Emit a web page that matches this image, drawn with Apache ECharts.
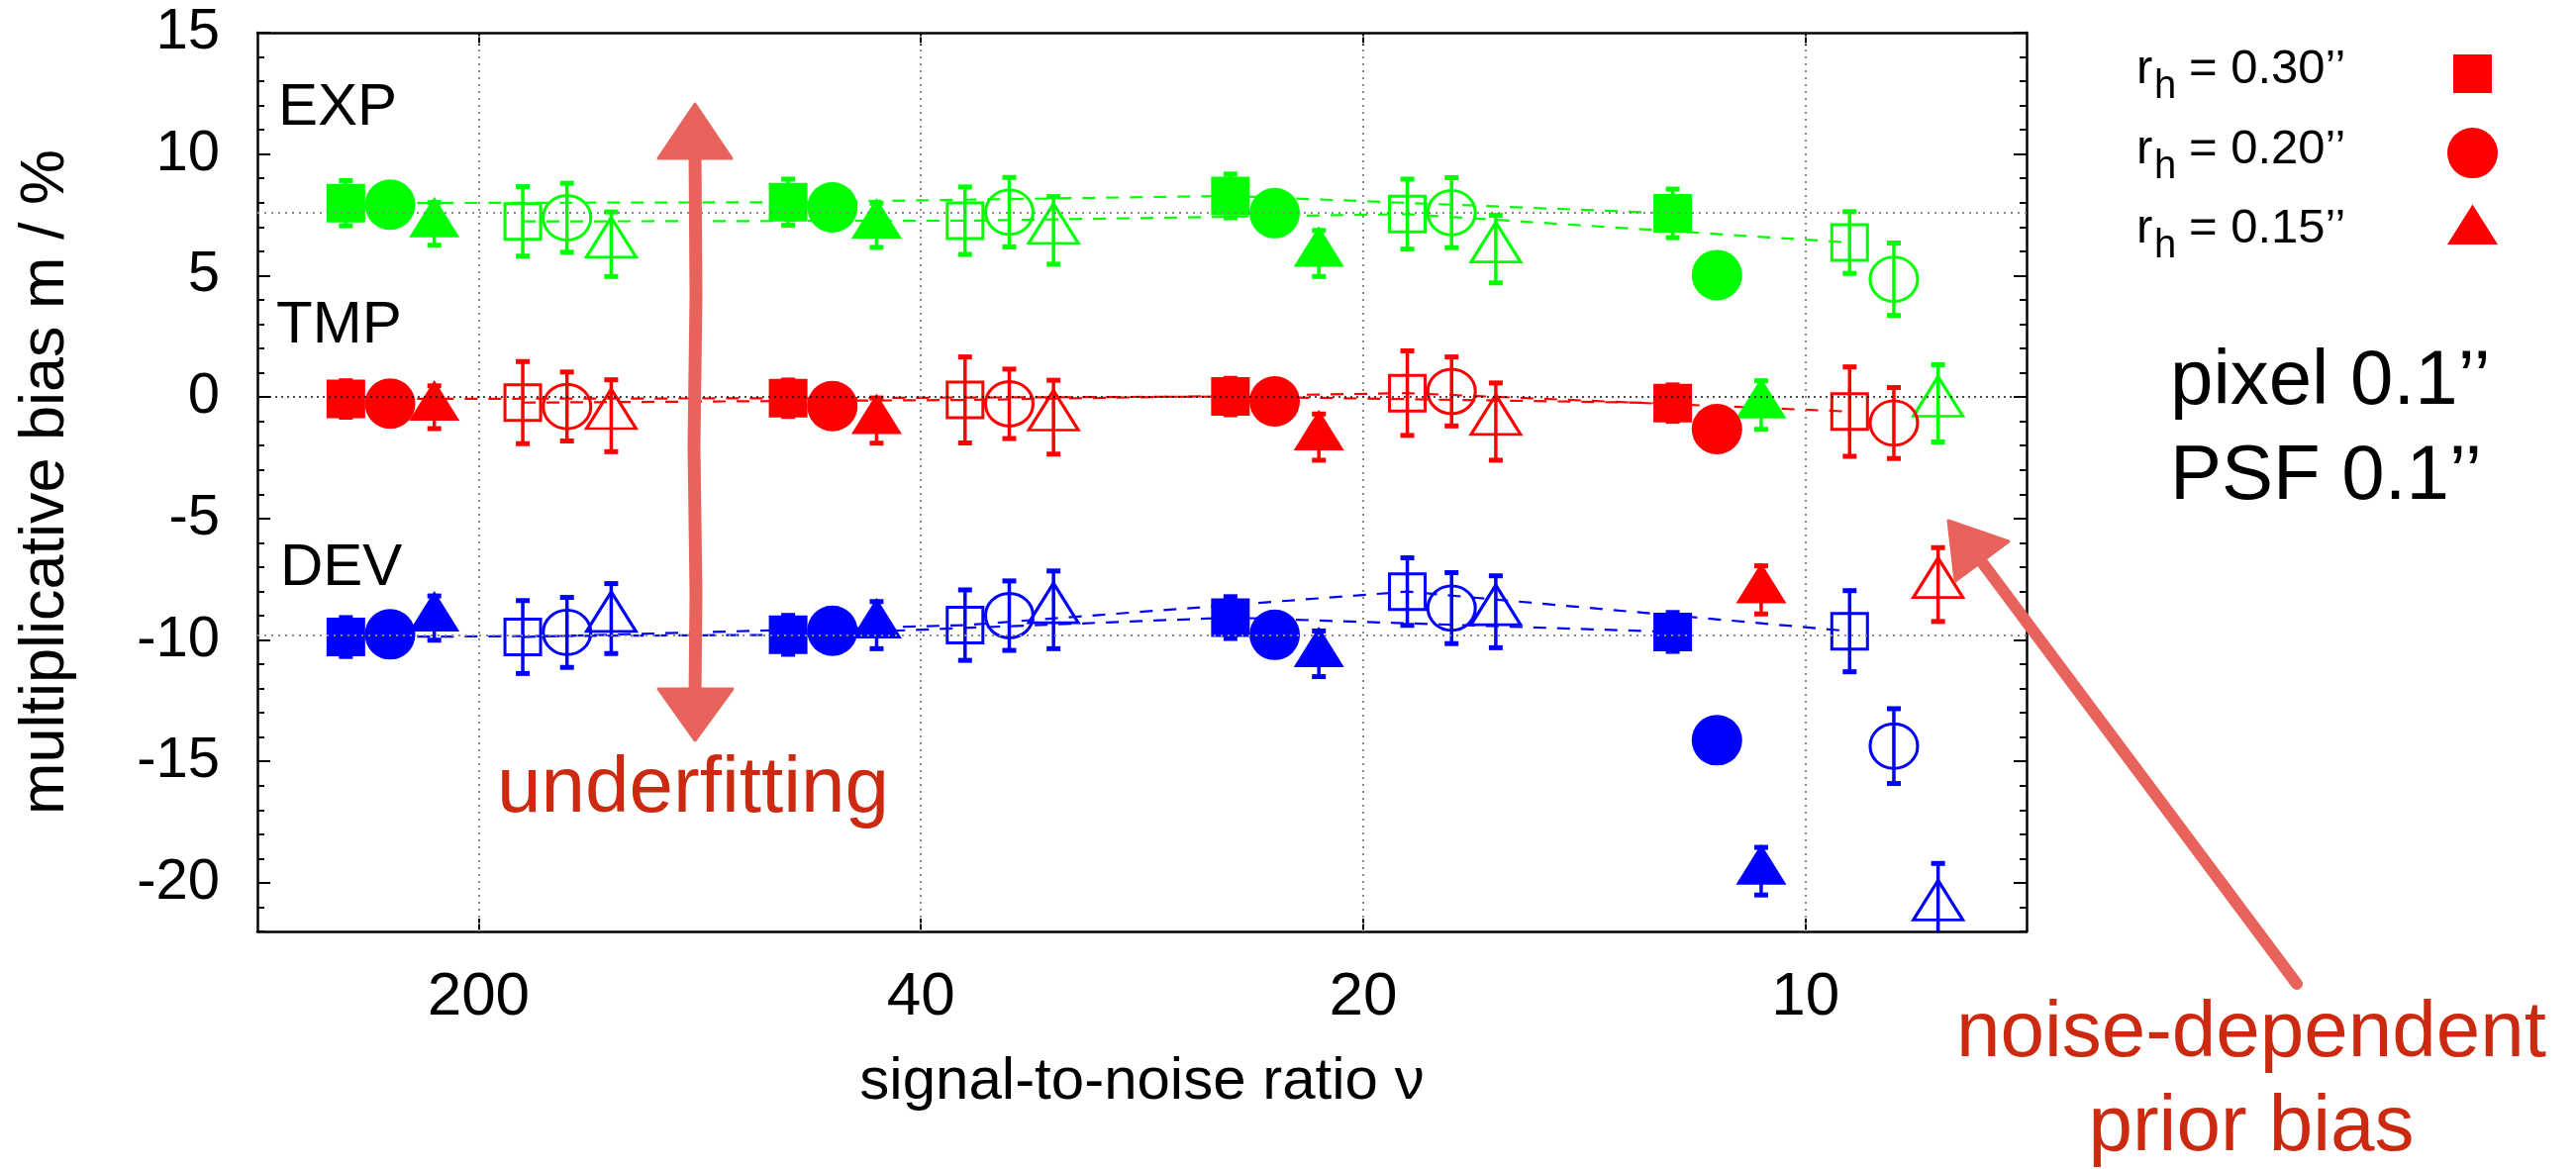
<!DOCTYPE html>
<html>
<head>
<meta charset="utf-8">
<script src="https://cdn.jsdelivr.net/npm/echarts@6/dist/echarts.min.js"></script>
<style>
html,body{margin:0;padding:0;background:#fff;}
#chart{width:2602px;height:1181px;}
</style>
</head>
<body>
<div id="chart"></div>
<script>
// ---------- data ----------
const SN_LABELS = ['200', '40', '20', '10'];
const GROUP_X = [0, 1, 2, 3];
const Y_TICKS = [-20, -15, -10, -5, 0, 5, 10, 15];
const REF_LINES = [7.6, 0, -9.8];

// EXP (green)
const EXP_SQ_F = [7.98, 8.02, 8.28, 7.56];   const EXP_SQ_F_ERR = [0.93, 0.95, 0.90, 1.00];
const EXP_CI_F = [7.92, 7.81, 7.57, 5.02];   const EXP_CI_F_ERR = [0.90, 0.90, 0.90, 0.90];
const EXP_TR_F = [7.13, 7.07, 5.91, -0.33];  const EXP_TR_F_ERR = [0.88, 0.91, 0.95, 1.00];
const EXP_SQ_O = [7.23, 7.26, 7.53, 6.36];   const EXP_SQ_O_ERR = [1.43, 1.39, 1.44, 1.27];
const EXP_CI_O = [7.38, 7.61, 7.59, 4.85];   const EXP_CI_O_ERR = [1.42, 1.43, 1.44, 1.49];
const EXP_TR_O = [6.29, 6.86, 6.09, -0.26];  const EXP_TR_O_ERR = [1.33, 1.39, 1.39, 1.59];
// TMP (red)
const TMP_SQ_F = [-0.08, -0.05, 0.02, -0.25]; const TMP_SQ_F_ERR = [0.75, 0.75, 0.75, 0.75];
const TMP_CI_F = [-0.27, -0.37, -0.18, -1.32]; const TMP_CI_F_ERR = [0.90, 0.90, 0.90, 0.90];
const TMP_TR_F = [-0.42, -0.97, -1.65, -7.94]; const TMP_TR_F_ERR = [0.88, 0.93, 0.95, 0.99];
const TMP_SQ_O = [-0.23, -0.12, 0.16, -0.60]; const TMP_SQ_O_ERR = [1.69, 1.77, 1.74, 1.84];
const TMP_CI_O = [-0.39, -0.28, 0.23, -1.07]; const TMP_CI_O_ERR = [1.42, 1.43, 1.42, 1.46];
const TMP_TR_O = [-0.77, -0.83, -1.01, -7.72]; const TMP_TR_O_ERR = [1.48, 1.52, 1.59, 1.52];
// DEV (blue)
const DEV_SQ_F = [-9.88, -9.79, -9.08, -9.67]; const DEV_SQ_F_ERR = [0.80, 0.80, 0.86, 0.80];
const DEV_CI_F = [-9.77, -9.62, -9.79, -14.13]; const DEV_CI_F_ERR = [0.90, 0.90, 0.90, 0.90];
const DEV_TR_F = [-9.10, -9.39, -10.57, -19.52]; const DEV_TR_F_ERR = [0.91, 0.97, 0.94, 0.98];
const DEV_SQ_O = [-9.88, -9.39, -8.01, -9.64]; const DEV_SQ_O_ERR = [1.50, 1.45, 1.39, 1.67];
const DEV_CI_O = [-9.69, -9.00, -8.69, -14.37]; const DEV_CI_O_ERR = [1.44, 1.43, 1.46, 1.54];
const DEV_TR_O = [-9.12, -8.76, -8.84, -21.00]; const DEV_TR_O_ERR = [1.44, 1.60, 1.48, 1.80];

// ---------- styling ----------
const GREEN = '#00ff00', RED = '#ff0000', BLUE = '#0000ff';
const FONT = '"Liberation Sans", Helvetica, Arial, sans-serif';
const ANNO = '#e8635b';
const ANNO_TEXT = '#cc2a10';
const OFFS = { sq: { f: -0.3, o: 0.1 }, ci: { f: -0.2, o: 0.2 }, tr: { f: -0.1, o: 0.3 } };

const SETS = [
  [EXP_SQ_F, EXP_SQ_F_ERR, GREEN, 'sq', 'f'], [EXP_CI_F, EXP_CI_F_ERR, GREEN, 'ci', 'f'], [EXP_TR_F, EXP_TR_F_ERR, GREEN, 'tr', 'f'],
  [EXP_SQ_O, EXP_SQ_O_ERR, GREEN, 'sq', 'o'], [EXP_CI_O, EXP_CI_O_ERR, GREEN, 'ci', 'o'], [EXP_TR_O, EXP_TR_O_ERR, GREEN, 'tr', 'o'],
  [TMP_SQ_F, TMP_SQ_F_ERR, RED, 'sq', 'f'], [TMP_CI_F, TMP_CI_F_ERR, RED, 'ci', 'f'], [TMP_TR_F, TMP_TR_F_ERR, RED, 'tr', 'f'],
  [TMP_SQ_O, TMP_SQ_O_ERR, RED, 'sq', 'o'], [TMP_CI_O, TMP_CI_O_ERR, RED, 'ci', 'o'], [TMP_TR_O, TMP_TR_O_ERR, RED, 'tr', 'o'],
  [DEV_SQ_F, DEV_SQ_F_ERR, BLUE, 'sq', 'f'], [DEV_CI_F, DEV_CI_F_ERR, BLUE, 'ci', 'f'], [DEV_TR_F, DEV_TR_F_ERR, BLUE, 'tr', 'f'],
  [DEV_SQ_O, DEV_SQ_O_ERR, BLUE, 'sq', 'o'], [DEV_CI_O, DEV_CI_O_ERR, BLUE, 'ci', 'o'], [DEV_TR_O, DEV_TR_O_ERR, BLUE, 'tr', 'o']
];

function symbolFor(shape, fill) {
  if (shape === 'sq') return { symbol: 'rect', symbolSize: fill === 'f' ? 39 : 36, symbolOffset: [0, 0] };
  if (shape === 'ci') return { symbol: 'circle', symbolSize: fill === 'f' ? 51 : [48, 45], symbolOffset: [0, 0] };
  return { symbol: 'triangle', symbolSize: fill === 'f' ? [51, 41] : [50, 40], symbolOffset: [0, -7] };
}

const series = [];

// helper series: grid lines and reference lines
series.push({
  type: 'line', data: [], silent: true, z: 0,
  markLine: {
    silent: true, symbol: 'none', animation: false, label: { show: false },
    data: GROUP_X.map(g => ({ xAxis: g, lineStyle: { color: '#888', width: 2, type: [2, 5] } }))
      .concat(REF_LINES.map(v => ({ yAxis: v, lineStyle: v === 0 ? { color: '#111', width: 1.6, type: [2, 4] } : { color: '#888', width: 2, type: [2, 5] } })))
  }
});

SETS.forEach(([vals, errs, color, shape, fill]) => {
  const xs = GROUP_X.map(g => g + OFFS[shape][fill]);
  const pts = vals.map((v, i) => [xs[i], v]);
  if (shape === 'sq') {
    series.push({
      type: 'line', data: pts, symbol: 'none', z: 1, silent: true,
      lineStyle: { color: color, width: 2.2, type: [13, 11] }
    });
  }
  series.push({
    type: 'custom', z: 2, silent: true, clip: true,
    data: vals.map((v, i) => [xs[i], v, errs[i]]),
    renderItem: function (params, api) {
      const x = api.value(0), y = api.value(1), e = api.value(2);
      const t = api.coord([x, y + e]), b = api.coord([x, y - e]);
      const cw = 7;
      return {
        type: 'group', children: [
          { type: 'line', shape: { x1: t[0], y1: t[1], x2: b[0], y2: b[1] }, style: { stroke: color, lineWidth: 3.5 } },
          { type: 'line', shape: { x1: t[0] - cw, y1: t[1], x2: t[0] + cw, y2: t[1] }, style: { stroke: color, lineWidth: 5 } },
          { type: 'line', shape: { x1: b[0] - cw, y1: b[1], x2: b[0] + cw, y2: b[1] }, style: { stroke: color, lineWidth: 5 } }
        ]
      };
    }
  });
  const sym = symbolFor(shape, fill);
  series.push(Object.assign({
    type: 'scatter', data: pts, z: 3, silent: true,
    itemStyle: fill === 'f' ? { color: color, opacity: 1 } : { color: 'rgba(255,255,255,0)', borderColor: color, borderWidth: 3, opacity: 1 }
  }, sym));
});

const axisLineStyle = { color: '#000', width: 2.5 };

const option = {
  animation: false,
  backgroundColor: '#fff',
  textStyle: { fontFamily: FONT },
  grid: { left: 260, right: 555, top: 33, bottom: 240, containLabel: false },
  xAxis: [
    {
      type: 'value', min: -0.5, max: 3.5, position: 'bottom',
      axisLine: { show: true, onZero: false, lineStyle: axisLineStyle },
      axisTick: { show: true, inside: true, length: 13, customValues: GROUP_X, lineStyle: { color: '#000', width: 2 } },
      axisLabel: { show: true, customValues: GROUP_X, formatter: v => SN_LABELS[Math.round(v)], fontSize: 62, color: '#000', margin: 36, fontFamily: FONT },
      splitLine: { show: false },
      name: 'signal-to-noise ratio \u03bd', nameLocation: 'middle', nameGap: 122,
      nameTextStyle: { fontSize: 60, color: '#000', fontFamily: FONT }
    },
    {
      type: 'value', min: -0.5, max: 3.5, position: 'top',
      axisLine: { show: true, onZero: false, lineStyle: axisLineStyle },
      axisTick: { show: true, inside: true, length: 13, customValues: GROUP_X, lineStyle: { color: '#000', width: 2 } },
      axisLabel: { show: false }, splitLine: { show: false }
    }
  ],
  yAxis: [
    {
      type: 'value', min: -22, max: 15, interval: 1, position: 'left',
      axisLine: { show: true, onZero: false, lineStyle: axisLineStyle },
      axisTick: { show: true, inside: true, length: 7, lineStyle: { color: '#000', width: 2 } },
      axisLabel: { show: true, customValues: Y_TICKS, fontSize: 58, color: '#000', margin: 38, fontFamily: FONT },
      splitLine: { show: false },
      name: 'multiplicative bias m / %', nameLocation: 'middle', nameGap: 182,
      nameTextStyle: { fontSize: 63, color: '#000', fontFamily: FONT }
    },
    {
      type: 'value', min: -22, max: 15, interval: 1, position: 'left',
      axisLine: { show: false, onZero: false },
      axisTick: { show: true, inside: true, length: 13, customValues: Y_TICKS, lineStyle: { color: '#000', width: 2 } },
      axisLabel: { show: false }, splitLine: { show: false }
    },
    {
      type: 'value', min: -22, max: 15, interval: 1, position: 'right',
      axisLine: { show: true, onZero: false, lineStyle: axisLineStyle },
      axisTick: { show: true, inside: true, length: 7, lineStyle: { color: '#000', width: 2 } },
      axisLabel: { show: false }, splitLine: { show: false }
    },
    {
      type: 'value', min: -22, max: 15, interval: 1, position: 'right',
      axisLine: { show: false, onZero: false },
      axisTick: { show: true, inside: true, length: 13, customValues: Y_TICKS, lineStyle: { color: '#000', width: 2 } },
      axisLabel: { show: false }, splitLine: { show: false }
    }
  ],
  series: series,
  graphic: [
    // model labels
    { type: 'text', x: 281, y: 109, style: { text: 'EXP', font: '60px ' + FONT, fill: '#000', verticalAlign: 'middle' }, z: 10 },
    { type: 'text', x: 279, y: 329, style: { text: 'TMP', font: '60px ' + FONT, fill: '#000', verticalAlign: 'middle' }, z: 10 },
    { type: 'text', x: 283, y: 574, style: { text: 'DEV', font: '60px ' + FONT, fill: '#000', verticalAlign: 'middle' }, z: 10 },
    // legend
    { type: 'text', x: 2158, y: 70, style: { text: 'r', font: '49px ' + FONT, fill: '#000', verticalAlign: 'middle' } },
    { type: 'text', x: 2176, y: 88, style: { text: 'h', font: '40px ' + FONT, fill: '#000', verticalAlign: 'middle' } },
    { type: 'text', x: 2211, y: 70, style: { text: '= 0.30\u2019\u2019', font: '49px ' + FONT, fill: '#000', verticalAlign: 'middle' } },
    { type: 'text', x: 2158, y: 151, style: { text: 'r', font: '49px ' + FONT, fill: '#000', verticalAlign: 'middle' } },
    { type: 'text', x: 2176, y: 169, style: { text: 'h', font: '40px ' + FONT, fill: '#000', verticalAlign: 'middle' } },
    { type: 'text', x: 2211, y: 151, style: { text: '= 0.20\u2019\u2019', font: '49px ' + FONT, fill: '#000', verticalAlign: 'middle' } },
    { type: 'text', x: 2158, y: 231, style: { text: 'r', font: '49px ' + FONT, fill: '#000', verticalAlign: 'middle' } },
    { type: 'text', x: 2176, y: 249, style: { text: 'h', font: '40px ' + FONT, fill: '#000', verticalAlign: 'middle' } },
    { type: 'text', x: 2211, y: 231, style: { text: '= 0.15\u2019\u2019', font: '49px ' + FONT, fill: '#000', verticalAlign: 'middle' } },
    { type: 'rect', shape: { x: 2478, y: 55, width: 39, height: 39 }, style: { fill: RED } },
    { type: 'circle', shape: { cx: 2497.5, cy: 154.6, r: 25.5 }, style: { fill: RED } },
    { type: 'polygon', shape: { points: [[2497.5, 206.5], [2523, 247], [2472, 247]] }, style: { fill: RED } },
    // pixel / PSF
    { type: 'text', x: 2192, y: 386, style: { text: 'pixel 0.1\u2019\u2019', font: '78px ' + FONT, fill: '#000', verticalAlign: 'middle' } },
    { type: 'text', x: 2192, y: 482, style: { text: 'PSF 0.1\u2019\u2019', font: '78px ' + FONT, fill: '#000', verticalAlign: 'middle' } },
    // annotation texts
    { type: 'text', x: 700, y: 798, style: { text: 'underfitting', font: '80px ' + FONT, fill: ANNO_TEXT, align: 'center', verticalAlign: 'middle' }, z: 20 },
    { type: 'text', x: 2274, y: 1045, style: { text: 'noise-dependent', font: '80px ' + FONT, fill: ANNO_TEXT, align: 'center', verticalAlign: 'middle' }, z: 20 },
    { type: 'text', x: 2274, y: 1140, style: { text: 'prior bias', font: '80px ' + FONT, fill: ANNO_TEXT, align: 'center', verticalAlign: 'middle' }, z: 20 },
    // double arrow (underfitting)
    { type: 'polyline', shape: { points: [[702, 150], [703, 300], [701, 450], [703, 600], [702, 705]] }, style: { stroke: ANNO, lineWidth: 13, lineCap: 'round' }, z: 20 },
    { type: 'polygon', shape: { points: [[702, 105], [739, 160], [665, 160]] }, style: { fill: ANNO, stroke: ANNO, lineWidth: 3, lineJoin: 'round' }, z: 20 },
    { type: 'polygon', shape: { points: [[702, 748], [740, 696], [665, 696]] }, style: { fill: ANNO, stroke: ANNO, lineWidth: 3, lineJoin: 'round' }, z: 20 },
    // diagonal arrow (prior bias)
    { type: 'line', shape: { x1: 2320, y1: 994, x2: 2002, y2: 568 }, style: { stroke: ANNO, lineWidth: 12, lineCap: 'round' }, z: 20 },
    { type: 'polygon', shape: { points: [[1968, 526], [2029, 547], [1975, 587]] }, style: { fill: ANNO, stroke: ANNO, lineWidth: 3, lineJoin: 'round' }, z: 20 }
  ]
};

const chart = echarts.init(document.getElementById('chart'), null, { renderer: 'canvas' });
chart.setOption(option);
</script>
</body>
</html>
